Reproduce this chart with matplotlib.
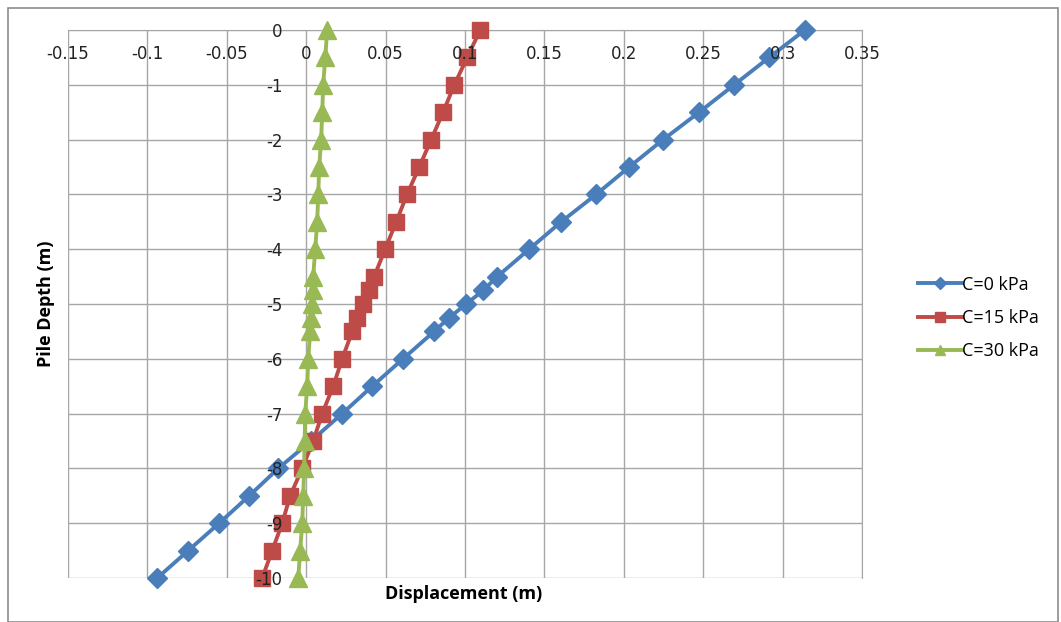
import matplotlib
matplotlib.use("Agg")
import matplotlib.pyplot as plt
from matplotlib.patches import Rectangle

depth = [0, -0.5, -1, -1.5, -2, -2.5, -3, -3.5, -4, -4.5, -4.75, -5, -5.25, -5.5,
         -6, -6.5, -7, -7.5, -8, -8.5, -9, -9.5, -10]

disp_c0 = [0.314, 0.2916, 0.2695, 0.2475, 0.2248, 0.2034, 0.1826, 0.1606, 0.1404,
           0.1203, 0.1115, 0.1008, 0.0900, 0.0806, 0.0610, 0.0416, 0.0227, 0.0030,
           -0.0176, -0.0359, -0.0548, -0.0743, -0.0938]
disp_c15 = [0.1096, 0.1014, 0.0933, 0.0862, 0.0787, 0.0712, 0.0635, 0.0567, 0.0497,
            0.0428, 0.0397, 0.0359, 0.0321, 0.0290, 0.0227, 0.0170, 0.0101, 0.0044,
            -0.0025, -0.0101, -0.0151, -0.0214, -0.0277]
disp_c30 = [0.0132, 0.0120, 0.0107, 0.0101, 0.0094, 0.0082, 0.0076, 0.0069, 0.0057,
            0.0044, 0.0044, 0.0038, 0.0030, 0.0025, 0.0013, 0.0006, -0.0006, -0.0010,
            -0.0013, -0.0019, -0.0025, -0.0038, -0.0050]

series_labels = ["C=0 kPa", "C=15 kPa", "C=30 kPa"]
x_ticks = [-0.15, -0.1, -0.05, 0, 0.05, 0.1, 0.15, 0.2, 0.25, 0.3, 0.35]
x_tick_labels = ["-0.15", "-0.1", "-0.05", "0", "0.05", "0.1", "0.15", "0.2", "0.25", "0.3", "0.35"]
y_ticks = list(range(0, -11, -1))

plt.rcParams['font.family'] = ['Open Sans', 'DejaVu Sans']

fig = plt.figure(figsize=(10.61, 6.22), dpi=100)
ax = fig.add_axes([68 / 1061, 1 - 578 / 622, (862 - 68) / 1061, (578 - 30) / 622])

# outer chart border
fig.patches.append(Rectangle((8 / 1061, 0.0), (1058 - 8) / 1061, 1 - 8 / 622,
                             transform=fig.transFigure, fill=False,
                             edgecolor="#8c8c8c", linewidth=1.2))

grid_color = "#a6a6a6"
# gridlines drawn beneath the data
for xv in x_ticks:
    ax.axvline(xv, color=grid_color, linewidth=1.0, zorder=0)
for yv in y_ticks:
    ax.axhline(yv, color=grid_color, linewidth=1.0, zorder=0)

styles = [
    dict(color="#4A7EBB", marker="D", markersize=10),
    dict(color="#BE4B48", marker="s", markersize=12),
    dict(color="#98B954", marker="^", markersize=13),
]
for vals, lab, st in zip([disp_c0, disp_c15, disp_c30], series_labels, styles):
    ax.plot(vals, depth, linewidth=2.8, label=lab, zorder=3, clip_on=False, **st)

ax.set_xlim(-0.15, 0.35)
ax.set_ylim(-10, 0)
ax.set_xticks(x_ticks)
ax.set_xticklabels(x_tick_labels)
ax.set_yticks(y_ticks)
ax.set_yticklabels([str(v) for v in y_ticks])

# axes cross at the origin; tick labels sit next to the crossing lines, above the data
ax.spines['bottom'].set_position(('data', 0))
ax.spines['left'].set_position(('data', 0))
for s in ['bottom', 'left']:
    ax.spines[s].set_visible(False)
for s in ['top', 'right']:
    ax.spines[s].set_color(grid_color)
ax.xaxis.set_zorder(5)
ax.yaxis.set_zorder(5)
ax.tick_params(axis='x', length=0, pad=11, colors="#222222",
               labelsize=12, labelfontfamily='DejaVu Sans')
ax.tick_params(axis='y', length=0, pad=17, colors="#222222",
               labelsize=12, labelfontfamily='DejaVu Sans')

fig.text(464 / 1061, 1 - 594 / 622, "Displacement (m)", ha="center", va="center",
         fontsize=13, fontweight="bold")
fig.text(46 / 1061, 1 - 304 / 622, "Pile Depth (m)", ha="center", va="center",
         rotation=90, fontsize=13, fontweight="bold")

leg = ax.legend(loc="center left", bbox_to_anchor=(902 / 1061, 1 - 318 / 622),
                bbox_transform=fig.transFigure, frameon=False, fontsize=13,
                handlelength=2.4, handletextpad=0.05, labelspacing=0.85,
                markerscale=0.6)

fig.savefig("out.png", dpi=100, facecolor="white")
